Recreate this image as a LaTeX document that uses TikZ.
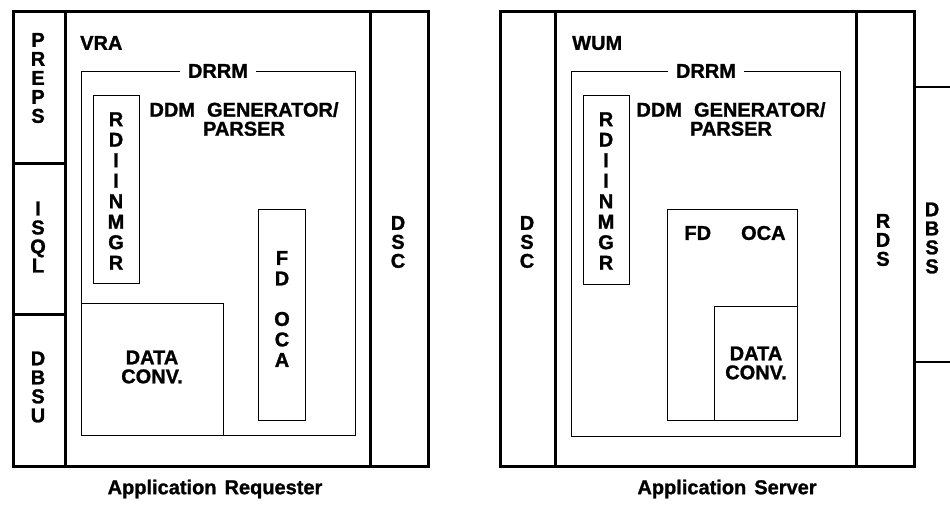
\documentclass[tikz,border=0pt]{standalone}
\usepackage{fontspec}
\setmainfont{Liberation Sans}[BoldFeatures={FakeBold=1.2}]
\begin{document}
\begin{tikzpicture}[x=1pt,y=-1pt,
  heavy/.style={draw, line width=2.8pt, inner sep=0pt, anchor=north west},
  thinbox/.style={draw, line width=1.4pt, inner sep=0pt, anchor=north west},
  lbl/.style={font=\fontsize{20}{19}\selectfont\bfseries, inner sep=0pt, align=center},
  tall/.style={font=\fontsize{20}{20.5}\selectfont\bfseries},
  heavyline/.style={line width=2.6pt}
]
\useasboundingbox (0,0) rectangle (950,505);
% ---------- Application Requester ----------
\node[heavy, minimum width=52pt, minimum height=152pt] (preps) at (12,10) {};
\node[heavy, minimum width=52pt, minimum height=151pt] (isql) at (12,162) {};
\node[heavy, minimum width=52pt, minimum height=152pt] (dbsu) at (12,313) {};
\node[heavy, minimum width=305pt, minimum height=455pt] (vra) at (64,10) {};
\node[heavy, minimum width=58pt, minimum height=455pt] (dscl) at (369,10) {};
\node[thinbox, minimum width=274pt, minimum height=364pt] (drrml) at (81,71) {};
\node[thinbox, minimum width=46pt, minimum height=188pt] (rdil) at (93,95) {};
\node[thinbox, minimum width=142pt, minimum height=132pt] (dcl) at (81,303) {};
\node[thinbox, minimum width=47pt, minimum height=211pt] (fdl) at (258,209) {};

\node[lbl] (prepst) at (38,78) {P\\R\\E\\P\\S};
\node[lbl] (isqlt) at (38,237) {I\\S\\Q\\L};
\node[lbl] (dbsut) at (38,387) {D\\B\\S\\U};
\node[lbl, anchor=west] (vrat) at (80,43) {VRA};
\node[lbl, fill=white, inner xsep=8pt] (drrmlt) at (218,71) {DRRM};
\node[lbl] (ddmlt) at (244,119) {DDM\hspace{12pt}GENERATOR/\\PARSER};
\node[lbl, tall] (rdilt) at (116,191) {R\\D\\I\\I\\N\\M\\G\\R};
\node[lbl, tall] (fdlt) at (282,309) {F\\D\\[20pt]O\\C\\A};
\node[lbl] (dclt) at (152,367) {DATA\\CONV.};
\node[lbl] (dsclt) at (398,242) {D\\S\\C};
\node[lbl] (art) at (215,489) {Application\hspace{8pt}Requester};

% ---------- Application Server ----------
\node[heavy, minimum width=55pt, minimum height=455pt] (dscr) at (499,10) {};
\node[heavy, minimum width=301pt, minimum height=455pt] (wum) at (554,10) {};
\node[heavy, minimum width=58pt, minimum height=455pt] (rds) at (855,10) {};
\node[thinbox, minimum width=269pt, minimum height=365pt] (drrmr) at (571,71) {};
\node[thinbox, minimum width=46pt, minimum height=189pt] (rdir) at (583,95) {};
\node[thinbox, minimum width=130pt, minimum height=211pt] (fdr) at (667,209) {};
\node[thinbox, minimum width=83pt, minimum height=114pt] (dcr) at (714,306) {};
\draw[heavyline] (913,87) -- (951,87);
\draw[heavyline] (913,362) -- (951,362);

\node[lbl] (dscrt) at (527,242) {D\\S\\C};
\node[lbl, anchor=west] (wumt) at (572,43) {WUM};
\node[lbl, fill=white, inner xsep=8pt] (drrmrt) at (706,71) {DRRM};
\node[lbl] (ddmrt) at (731,119) {DDM\hspace{12pt}GENERATOR/\\PARSER};
\node[lbl, tall] (rdirt) at (606,191) {R\\D\\I\\I\\N\\M\\G\\R};
\node[lbl] (fdrt) at (735,233) {FD\hspace{30pt}OCA};
\node[lbl] (dcrt) at (756,363) {DATA\\CONV.};
\node[lbl] (rdst) at (883,240) {R\\D\\S};
\node[lbl] (dbsst) at (932,238) {D\\B\\S\\S};
\node[lbl] (ast) at (727,489) {Application\hspace{8pt}Server};
\end{tikzpicture}
\end{document}
